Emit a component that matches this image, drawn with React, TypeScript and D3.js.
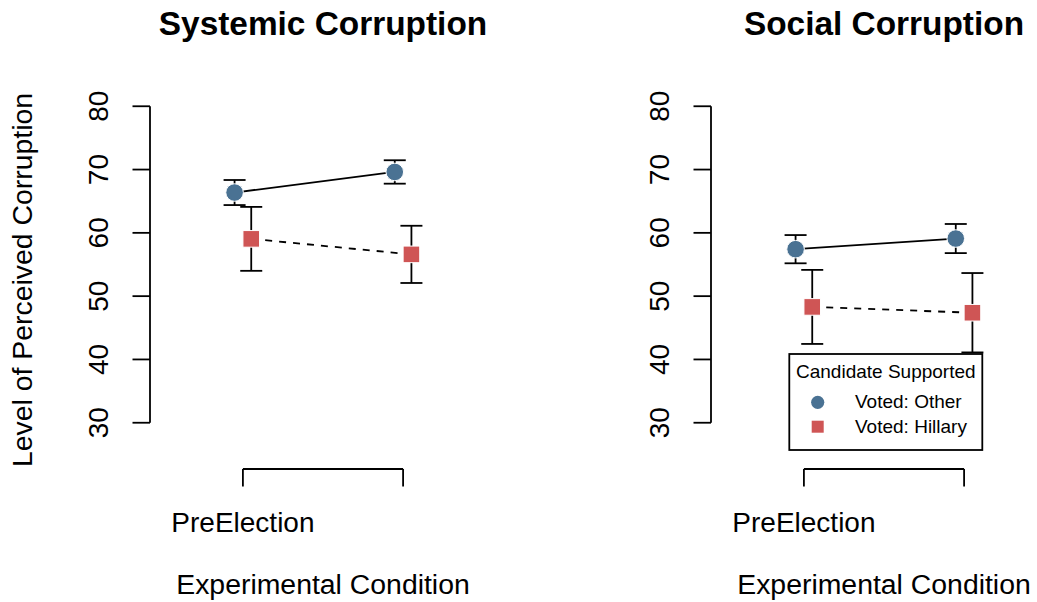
import React from "react";
import * as d3 from "d3";

// Experimental conditions (x positions 1 and 2)
const conditions = ["PreElection", "PostElection"];
const yTicks = [30, 40, 50, 60, 70, 80];
const groups = ["Voted: Other", "Voted: Hillary"];

// Systemic corruption: group means and error-bar half widths
const systemicOtherMean = [66.37, 69.62];
const systemicOtherErr = [1.98, 1.85];
const systemicHillaryMean = [59.05, 56.6];
const systemicHillaryErr = [5.05, 4.52];

// Social corruption: group means and error-bar half widths
const socialOtherMean = [57.42, 59.1];
const socialOtherErr = [2.23, 2.3];
const socialHillaryMean = [48.3, 47.38];
const socialHillaryErr = [5.85, 6.27];

const panels = [
  {
    title: "Systemic Corruption",
    other: systemicOtherMean,
    otherErr: systemicOtherErr,
    hillary: systemicHillaryMean,
    hillaryErr: systemicHillaryErr,
  },
  {
    title: "Social Corruption",
    other: socialOtherMean,
    otherErr: socialOtherErr,
    hillary: socialHillaryMean,
    hillaryErr: socialHillaryErr,
  },
];

const BLUE = "#4a7293";
const RED = "#cf5555";
const FONT = "'Liberation Sans', Arial, Helvetica, sans-serif";
const W = 1037;
const H = 602;
const PANEL_SHIFT = 561;
const DODGE = 0.052;

function textWidth(s: string, size: number): number {
  const c = document.createElement("canvas").getContext("2d");
  if (!c) return s.length * size * 0.55;
  c.font = `${size}px ${FONT}`;
  return c.measureText(s).width;
}

function Panel({ p, dx, showYTitle }: { p: typeof panels[0]; dx: number; showYTitle: boolean }) {
  const x = d3.scaleLinear().domain([0.42, 2.58]).range([150 + dx, 496 + dx]);
  const y = d3.scaleLinear().domain([28, 82]).range([435.4, 93.6]);
  const idx = conditions.map((_, i) => i + 1);
  const line = d3
    .line<[number, number]>()
    .x((d) => x(d[0]))
    .y((d) => y(d[1]));

  const otherPts: [number, number][] = p.other.map((v, i) => [idx[i] - DODGE, v]);
  const hillPts: [number, number][] = p.hillary.map((v, i) => [idx[i] + DODGE, v]);

  const axisY = 469;
  const labelSize = 28;
  // tick labels, skipping any that would collide with the previous one
  const shown: { i: number; lab: string }[] = [];
  let lastRight = -Infinity;
  const gap = textWidth("m", labelSize);
  conditions.forEach((lab, i) => {
    const w = textWidth(lab, labelSize);
    const cx = x(idx[i]);
    if (cx - w / 2 >= lastRight + gap) {
      shown.push({ i, lab });
      lastRight = cx + w / 2;
    }
  });

  const cx0 = (x.range()[0] + x.range()[1]) / 2;

  const errBar = (xv: number, m: number, e: number, key: string) => {
    const px = x(xv);
    return (
      <g key={key} stroke="#000" strokeWidth={1.8}>
        <line x1={px} x2={px} y1={y(m - e)} y2={y(m + e)} />
        <line x1={px - 11} x2={px + 11} y1={y(m + e)} y2={y(m + e)} />
        <line x1={px - 11} x2={px + 11} y1={y(m - e)} y2={y(m - e)} />
      </g>
    );
  };

  return (
    <g>
      <text x={cx0} y={35} textAnchor="middle" fontSize={33.4} fontWeight="bold" fontFamily={FONT}>
        {p.title}
      </text>
      {/* y axis */}
      <line x1={x.range()[0]} x2={x.range()[0]} y1={y(30)} y2={y(80)} stroke="#000" strokeWidth={1.8} />
      {yTicks.map((t) => (
        <g key={t}>
          <line x1={x.range()[0] - 17.5} x2={x.range()[0]} y1={y(t)} y2={y(t)} stroke="#000" strokeWidth={1.8} />
          <text
            transform={`translate(${x.range()[0] - 42},${y(t)}) rotate(-90)`}
            textAnchor="middle"
            fontSize={labelSize}
            fontFamily={FONT}
          >
            {t}
          </text>
        </g>
      ))}
      {showYTitle && (
        <text
          transform={`translate(32,280) rotate(-90)`}
          textAnchor="middle"
          fontSize={28.4}
          fontFamily={FONT}
        >
          Level of Perceived Corruption
        </text>
      )}
      {/* x axis */}
      <line x1={x(1)} x2={x(2)} y1={axisY} y2={axisY} stroke="#000" strokeWidth={1.8} />
      {idx.map((v) => (
        <line key={v} x1={x(v)} x2={x(v)} y1={axisY} y2={axisY + 17.5} stroke="#000" strokeWidth={1.8} />
      ))}
      {shown.map(({ i, lab }) => (
        <text key={lab} x={x(idx[i])} y={531.7} textAnchor="middle" fontSize={labelSize} fontFamily={FONT}>
          {lab}
        </text>
      ))}
      <text x={cx0} y={594} textAnchor="middle" fontSize={28.4} fontFamily={FONT}>
        Experimental Condition
      </text>
      {/* error bars */}
      {otherPts.map((d, i) => errBar(d[0], d[1], p.otherErr[i], `oe${i}`))}
      {hillPts.map((d, i) => errBar(d[0], d[1], p.hillaryErr[i], `he${i}`))}
      {/* connecting lines */}
      <path d={line(otherPts) || ""} fill="none" stroke="#000" strokeWidth={1.8} />
      <path d={line(hillPts) || ""} fill="none" stroke="#000" strokeWidth={1.8} strokeDasharray="7 7" />
      {/* markers */}
      {otherPts.map((d, i) => (
        <circle key={`o${i}`} cx={x(d[0])} cy={y(d[1])} r={8.8} fill={BLUE} stroke="#fff" strokeWidth={1} />
      ))}
      {hillPts.map((d, i) => (
        <rect
          key={`h${i}`}
          x={x(d[0]) - 8.3}
          y={y(d[1]) - 8.3}
          width={16.6}
          height={16.6}
          fill={RED}
          stroke="#fff"
          strokeWidth={1}
        />
      ))}
    </g>
  );
}

function Legend() {
  const left = 789.3;
  const top = 354;
  const w = 193;
  const h = 96;
  return (
    <g fontFamily={FONT}>
      <rect x={left} y={top} width={w} height={h} fill="#fff" stroke="#000" strokeWidth={1.8} />
      <text x={left + w / 2} y={377.7} textAnchor="middle" fontSize={19}>
        Candidate Supported
      </text>
      {groups.map((g, i) => {
        const cy = 402.3 + i * 24.4;
        return (
          <g key={g}>
            {i === 0 ? (
              <circle cx={817.7} cy={cy} r={6.6} fill={BLUE} />
            ) : (
              <rect x={817.7 - 6} y={cy - 6} width={12} height={12} fill={RED} />
            )}
            <text x={855} y={cy + 6} fontSize={19}>
              {g}
            </text>
          </g>
        );
      })}
    </g>
  );
}

export default function App() {
  return (
    <svg
      width={W}
      height={H}
      style={{ position: "absolute", left: 0, top: 0, background: "#fff" }}
    >
      <rect width={W} height={H} fill="#fff" />
      {panels.map((p, i) => (
        <Panel key={p.title} p={p} dx={i * PANEL_SHIFT} showYTitle={i === 0} />
      ))}
      <Legend />
    </svg>
  );
}
